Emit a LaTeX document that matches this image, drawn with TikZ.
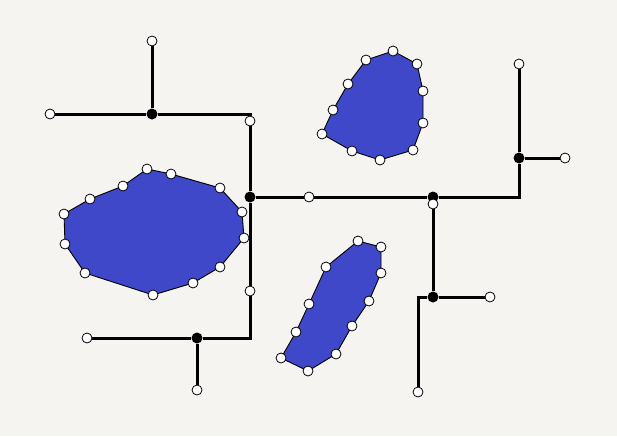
\documentclass[tikz,border=0pt]{standalone}
\usepackage{amsmath}

\definecolor{paper}{RGB}{245,244,240}
\definecolor{lakeblue}{RGB}{63,72,200}

\begin{document}
\begin{tikzpicture}[x=1pt,y=-1pt,
    port/.style={circle, draw=black, fill=white, line width=0.8pt, inner sep=0pt, minimum size=10pt},
    joint/.style={circle, fill=black, inner sep=0pt, minimum size=11pt},
    wire/.style={line width=3pt},
    lake/.style={fill=lakeblue, draw=black, line width=0.9pt, line join=round}]

    % Background
    \fill[paper] (0,0) rectangle (617,436);
    \useasboundingbox (0,0) rectangle (617,436);

    % Lakes
    \draw[lake] (64,214) -- (90,199) -- (123,186) -- (147,169) -- (171,174)
        -- (220,188) -- (242,212) -- (244,238) -- (220,267) -- (193,283)
        -- (153,295) -- (85,273) -- (65,244) -- cycle;
    \draw[lake] (322,134) -- (333,110) -- (348,84) -- (366,60) -- (393,51)
        -- (417,64) -- (423,91) -- (423,123) -- (413,150) -- (380,160)
        -- (352,151) -- cycle;
    \draw[lake] (358,241) -- (381,247) -- (381,273) -- (369,301) -- (352,326)
        -- (336,354) -- (308,371) -- (281,358) -- (296,332) -- (309,304)
        -- (326,267) -- cycle;

    % Lake points
    \foreach \x/\y [count=\i] in {64/214, 90/199, 123/186, 147/169, 171/174,
        220/188, 242/212, 244/238, 220/267, 193/283, 153/295, 85/273, 65/244}
        \node[port] (a\i) at (\x,\y) {};
    \foreach \x/\y [count=\i] in {322/134, 333/110, 348/84, 366/60, 393/51,
        417/64, 423/91, 423/123, 413/150, 380/160, 352/151}
        \node[port] (b\i) at (\x,\y) {};
    \foreach \x/\y [count=\i] in {358/241, 381/247, 381/273, 369/301, 352/326,
        336/354, 308/371, 281/358, 296/332, 309/304, 326/267}
        \node[port] (c\i) at (\x,\y) {};

    % Joints
    \node[joint] (j1) at (152,114) {};
    \node[joint] (j2) at (250,197) {};
    \node[joint] (j3) at (433,197) {};
    \node[joint] (j4) at (519,158) {};
    \node[joint] (j5) at (433,297) {};
    \node[joint] (j6) at (197,338) {};

    % End points
    \node[port] (p1) at (50,114) {};
    \node[port] (p2) at (152,41) {};
    \node[port] (p3) at (250,121) {};
    \node[port] (p4) at (309,197) {};
    \node[port] (p5) at (519,64) {};
    \node[port] (p6) at (565,158) {};
    \node[port] (p7) at (433,204) {};
    \node[port] (p8) at (490,297) {};
    \node[port] (p9) at (418,392) {};
    \node[port] (p10) at (250,291) {};
    \node[port] (p11) at (87,338) {};
    \node[port] (p12) at (197,390) {};

    % Wires
    \draw[wire] (p1) -- (j1);
    \draw[wire] (j1) -- (p2);
    \draw[wire] (j1) -| (p3);
    \draw[wire] (p3) -- (j2);
    \draw[wire] (j2) -- (p4);
    \draw[wire] (p4) -- (j3);
    \draw[wire] (j3) -| (j4);
    \draw[wire] (j4) -- (p5);
    \draw[wire] (j4) -- (p6);
    \draw[wire] (p7) -- (j5);
    \draw[wire] (j5) -- (p8);
    \draw[wire] (j5) -| (p9);
    \draw[wire] (j2) -- (p10);
    \draw[wire] (p10) |- (j6);
    \draw[wire] (j6) -- (p11);
    \draw[wire] (j6) -- (p12);

\end{tikzpicture}
\end{document}
